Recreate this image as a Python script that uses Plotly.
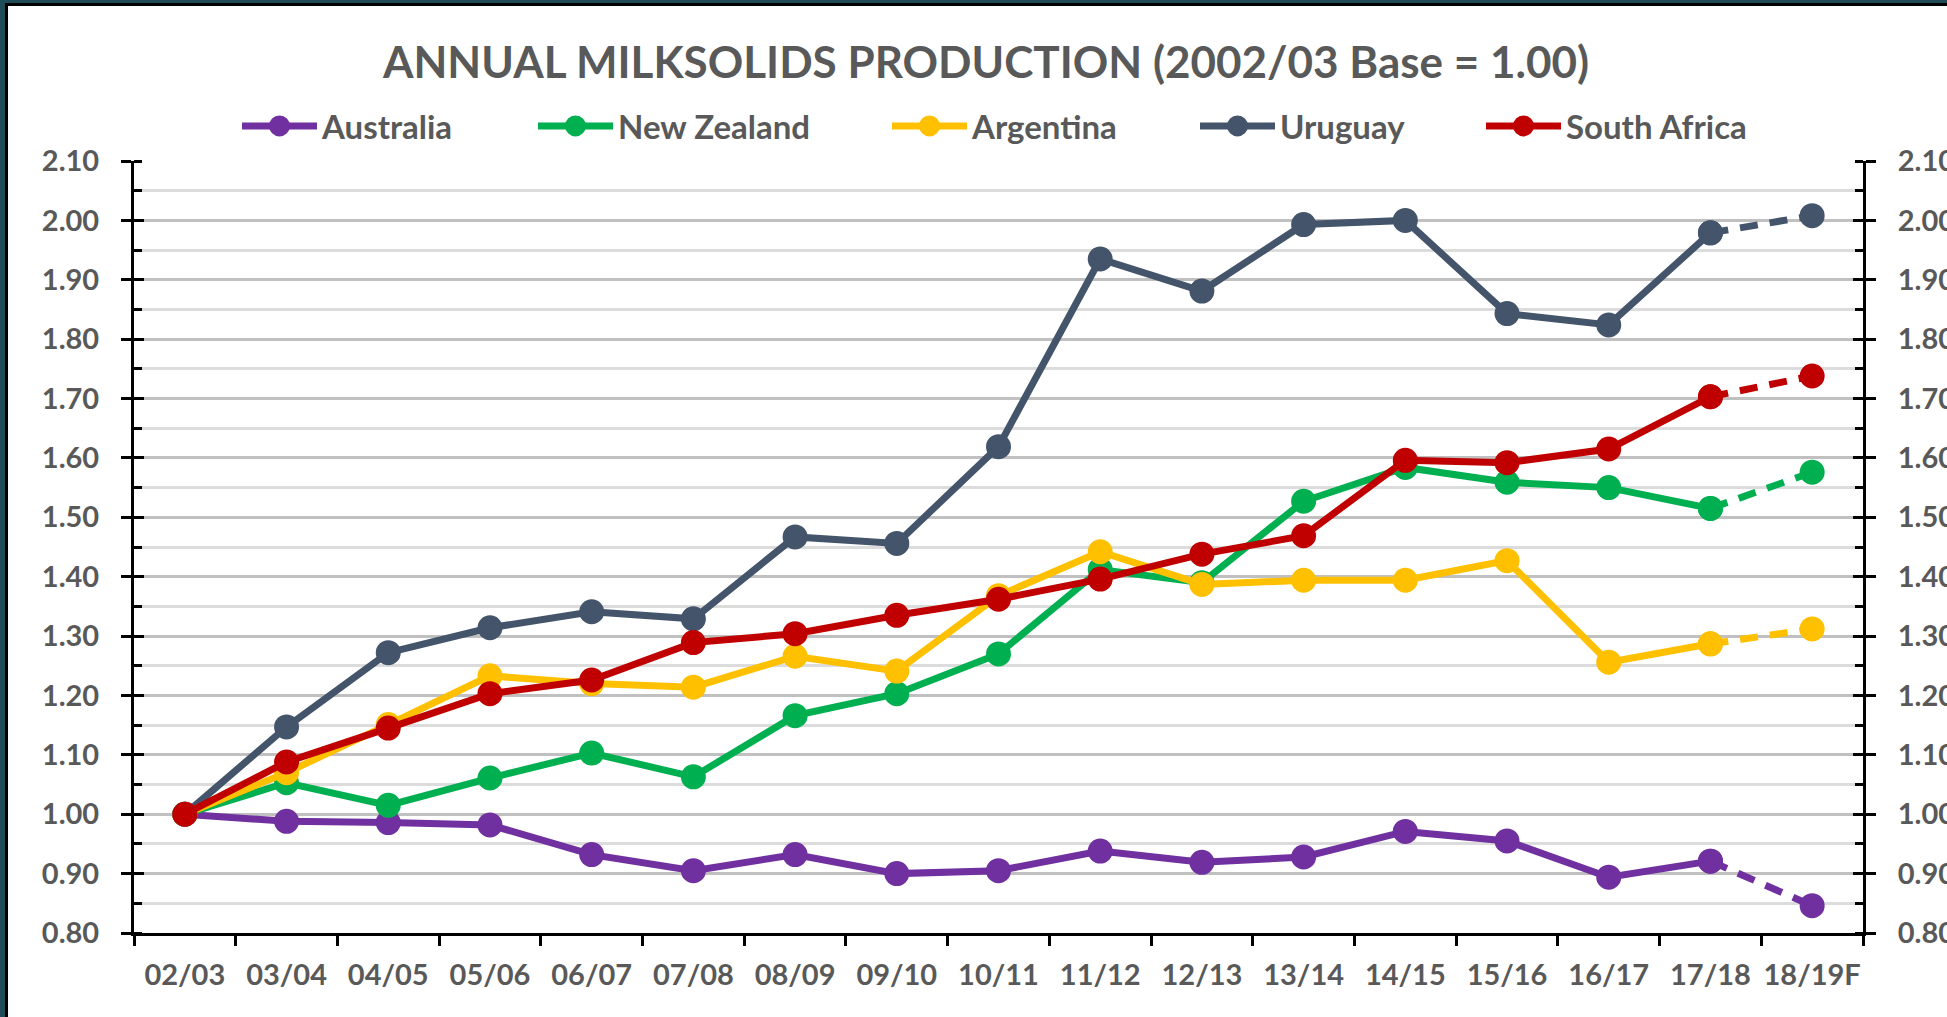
import plotly.graph_objects as go

# ---------------- data ----------------
seasons = ["02/03", "03/04", "04/05", "05/06", "06/07", "07/08", "08/09", "09/10",
           "10/11", "11/12", "12/13", "13/14", "14/15", "15/16", "16/17", "17/18", "18/19F"]

australia = [1.00, 0.988, 0.986, 0.982, 0.932, 0.905, 0.932, 0.900, 0.905, 0.938,
             0.919, 0.928, 0.971, 0.955, 0.894, 0.921, 0.846]
new_zealand = [1.00, 1.053, 1.015, 1.061, 1.103, 1.063, 1.166, 1.203, 1.270, 1.412,
               1.390, 1.527, 1.584, 1.559, 1.550, 1.515, 1.576]
argentina = [1.00, 1.070, 1.151, 1.233, 1.220, 1.214, 1.266, 1.241, 1.368, 1.442,
             1.387, 1.394, 1.394, 1.427, 1.256, 1.287, 1.312]
uruguay = [1.00, 1.147, 1.272, 1.314, 1.341, 1.329, 1.467, 1.456, 1.619, 1.935,
           1.881, 1.993, 2.000, 1.843, 1.824, 1.979, 2.008]
south_africa = [1.00, 1.088, 1.145, 1.203, 1.226, 1.289, 1.304, 1.335, 1.362, 1.396,
                1.438, 1.469, 1.596, 1.592, 1.615, 1.703, 1.738]

series_names = ["Australia", "New Zealand", "Argentina", "Uruguay", "South Africa"]
series_values = [australia, new_zealand, argentina, uruguay, south_africa]
series_colors = ["#7030A0", "#00B050", "#FFC000", "#44546A", "#C00000"]

title_text = "ANNUAL MILKSOLIDS PRODUCTION (2002/03 Base = 1.00)"

# ---------------- layout geometry ----------------
W, H = 1947, 1017
L, R, T, B = 134, 1863, 161, 933
TXT = "#595959"
FONT = "Lato"

def px_x(px):
    return (px - L) / (R - L)

def px_y(py):
    return 1 - (py - T) / (B - T)

fig = go.Figure()

legend_lefts = [237, 533, 887, 1195, 1481]
n_actual = len(seasons) - 1  # last point is forecast

for i, (name, vals, col) in enumerate(zip(series_names, series_values, series_colors)):
    lg = "legend" if i == 0 else f"legend{i+1}"
    fig.add_trace(go.Scatter(
        x=seasons[:n_actual], y=vals[:n_actual], name=name, mode="lines+markers",
        line=dict(color=col, width=7),
        marker=dict(size=20, color=col, line=dict(color=col, width=5)),
        legend=lg, showlegend=True, cliponaxis=False))
    fig.add_trace(go.Scatter(
        x=seasons[n_actual - 1:], y=vals[n_actual - 1:], name=name + " (F)",
        mode="lines+markers",
        line=dict(color=col, width=7, dash="18px,12px"),
        marker=dict(size=20, color=col, line=dict(color=col, width=5)),
        legend=lg, showlegend=False, cliponaxis=False))

tickfont = dict(family=FONT, size=29, color=TXT, weight="bold")

yaxis_common = dict(
    range=[0.8, 2.1], tick0=0.8, dtick=0.1, tickformat=".2f",
    zeroline=False, fixedrange=True, automargin=False,
)

layout = dict(
    width=W, height=H,
    margin=dict(l=L, r=W - R, t=T, b=H - B, pad=0, autoexpand=False),
    paper_bgcolor="white", plot_bgcolor="white",
    font=dict(family=FONT, color=TXT),
    title=dict(text=title_text, x=986 / W, xref="container", xanchor="center",
               y=1 - 63 / H, yref="container", yanchor="middle",
               font=dict(family=FONT, size=44, color=TXT, weight="bold")),
    xaxis=dict(
        type="category", categoryorder="array", categoryarray=seasons,
        range=[-0.5, len(seasons) - 0.5], tickson="boundaries",
        ticks="outside", ticklen=10, tickwidth=3, tickcolor="black",
        showline=True, linecolor="black", linewidth=3, showgrid=False,
        tickfont=tickfont, tickangle=0, ticklabelstandoff=14, fixedrange=True,
        automargin=False,
    ),
    yaxis=dict(
        **yaxis_common, side="left",
        ticks="outside", ticklen=10, tickwidth=3, tickcolor="black",
        showline=True, linecolor="black", linewidth=3,
        showgrid=True, gridcolor="#C0C0C0", gridwidth=2.5,
        minor=dict(dtick=0.05, showgrid=True, gridcolor="#DCDCDC", gridwidth=2.5,
                   ticks="inside", ticklen=8, tickwidth=3, tickcolor="black"),
        tickfont=tickfont, ticklabelstandoff=16,
    ),
    yaxis2=dict(
        **yaxis_common, side="right", overlaying="y", anchor="x",
        ticks="outside", ticklen=10, tickwidth=3, tickcolor="black",
        showline=True, linecolor="black", linewidth=3, showgrid=False,
        minor=dict(dtick=0.05, showgrid=False,
                   ticks="inside", ticklen=8, tickwidth=3, tickcolor="black"),
        tickfont=tickfont, ticklabelstandoff=16,
    ),
    yaxis3=dict(
        **yaxis_common, side="left", overlaying="y", anchor="x",
        ticks="inside", ticklen=10, tickwidth=3, tickcolor="black",
        showline=False, showgrid=False, showticklabels=False,
    ),
    yaxis4=dict(
        **yaxis_common, side="right", overlaying="y", anchor="x",
        ticks="inside", ticklen=10, tickwidth=3, tickcolor="black",
        showline=False, showgrid=False, showticklabels=False,
    ),
    showlegend=True,
)

legend_font = dict(family=FONT, size=33, color=TXT, weight="bold")
for i, lx in enumerate(legend_lefts):
    key = "legend" if i == 0 else f"legend{i+1}"
    layout[key] = dict(
        x=lx / W, xref="container", xanchor="left",
        y=1 - 126 / H, yref="container", yanchor="middle",
        orientation="h", itemwidth=75, font=legend_font,
        bgcolor="rgba(0,0,0,0)", borderwidth=0,
        itemclick=False, itemdoubleclick=False,
    )

fig.update_layout(**layout)

# invisible helper traces so that overlay axes are drawn
for ax in ["y2", "y3", "y4"]:
    fig.add_trace(go.Scatter(x=[seasons[0]], y=[1.0], yaxis=ax, mode="markers",
                             marker=dict(opacity=0), showlegend=False, hoverinfo="skip"))

# frame (dark teal edge + black rule) as in the original screenshot
teal = "#1E4D57"
shapes = [
    dict(type="rect", xref="paper", yref="paper", x0=px_x(0), x1=px_x(5), y0=px_y(H), y1=px_y(0),
         fillcolor=teal, line=dict(width=0)),
    dict(type="rect", xref="paper", yref="paper", x0=px_x(0), x1=px_x(W), y0=px_y(3), y1=px_y(0),
         fillcolor=teal, line=dict(width=0)),
    dict(type="rect", xref="paper", yref="paper", x0=px_x(5), x1=px_x(8), y0=px_y(H), y1=px_y(3),
         fillcolor="black", line=dict(width=0)),
    dict(type="rect", xref="paper", yref="paper", x0=px_x(5), x1=px_x(W), y0=px_y(6), y1=px_y(3),
         fillcolor="black", line=dict(width=0)),
]
fig.update_layout(shapes=shapes)

fig.write_html(
    "out.html",
    config={"displayModeBar": False},
    post_script="document.body.style.margin='0';document.documentElement.style.overflow='hidden';",
)
